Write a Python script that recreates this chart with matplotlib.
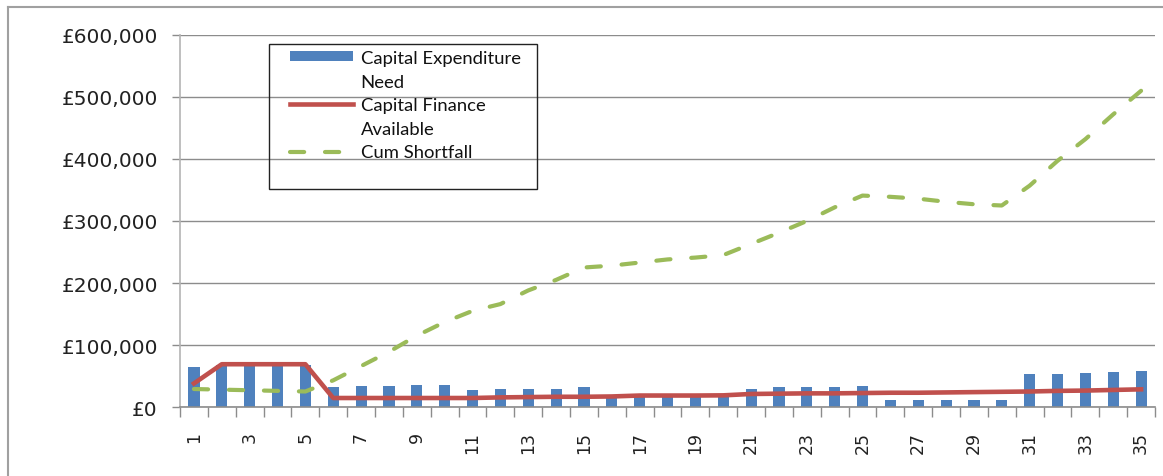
import matplotlib.pyplot as plt
from matplotlib.lines import Line2D
from matplotlib.patches import Patch, Rectangle
from matplotlib.ticker import FuncFormatter, MultipleLocator

# values, in pounds
periods = list(range(1, 36))
capex_need = [
    64000, 67000, 67000, 67000, 67000, 32000, 33400, 33400, 35000, 35000,
    27500, 29000, 29000, 29000, 32000, 16000, 16500, 16500, 16500, 16500,
    29000, 32000, 32000, 33000, 34000, 11000, 11000, 11000, 11000, 11000,
    53700, 54000, 55300, 57000, 58500,
]
finance_available = [
    38000, 69000, 69000, 69000, 69000, 14500, 14500, 14500, 14500, 14500,
    14500, 15500, 16000, 16500, 16500, 17000, 18500, 18500, 18500, 18800,
    21000, 21500, 22000, 22000, 22500, 23000, 23000, 23500, 24000, 24500,
    25000, 26000, 26500, 27500, 28500,
]
cum_shortfall = [
    29000, 28000, 27000, 26000, 25000, 43000, 66000, 89000, 115000, 137000,
    155000, 166000, 188000, 205000, 225000, 228000, 233000, 238000, 241000, 245000,
    263000, 281000, 300000, 322000, 341000, 339000, 336000, 331000, 327000, 325000,
    357000, 397000, 432000, 472000, 510000,
]
legend_labels = ["Capital Expenditure", "Need", "Capital Finance", "Available", "Cum Shortfall"]

blue = "#4F81BD"
red = "#C0504D"
green = "#9BBB59"
grey = "#8C8C8C"

fig = plt.figure(figsize=(11.63, 4.77), dpi=100)
W, H = 1163, 477
ax = fig.add_axes([180 / W, 1 - 408 / H, (1155 - 180) / W, (408 - 36) / H])

ax.bar(periods, capex_need, width=0.4, color=blue, zorder=2)
ax.plot(periods, finance_available, color=red, linewidth=3.3, zorder=3)
shortfall_line, = ax.plot(periods, cum_shortfall, color=green, linewidth=3,
                          dash_capstyle="round", zorder=4)
shortfall_line.set_dashes((3.4, 5.0))

ax.set_xlim(0.5, 35.5)
ax.set_ylim(0, 600000)

ax.yaxis.set_major_locator(MultipleLocator(100000))
ax.yaxis.set_major_formatter(FuncFormatter(lambda v, p: "£{:,.0f}".format(v)))
ax.grid(axis="y", color=grey, linewidth=1, zorder=0)
ax.set_axisbelow(True)

ax.set_xticks(periods[::2])
ax.set_xticklabels([str(p) for p in periods[::2]], rotation=90, va="top")
ax.set_xticks([p + 0.5 for p in range(0, 36)], minor=True)
ax.tick_params(axis="x", which="major", length=0, pad=17, labelsize=12.5, colors="#222222")
ax.tick_params(axis="x", which="minor", length=7, width=1, color=grey)
ax.tick_params(axis="y", length=6, width=1, color=grey, pad=10, labelsize=14.5,
               labelcolor="#222222")

for side in ("top", "right"):
    ax.spines[side].set_visible(False)
ax.spines["left"].set_color("#B4B4B4")
ax.spines["bottom"].set_color(grey)
ax.spines["left"].set_linewidth(1.2)
ax.spines["bottom"].set_linewidth(1.2)

# legend: Excel style, each handle next to the first line of its label
blank = Line2D([], [], color="none")
handles = [
    Patch(facecolor=blue),
    blank,
    Line2D([], [], color=red, linewidth=3.3),
    blank,
    Line2D([], [], color=green, linewidth=3, dashes=(3.4, 5.0), dash_capstyle="round"),
]
leg = ax.legend(handles, legend_labels, loc="upper left",
                bbox_to_anchor=(290 / W, 1 - 51 / H), bbox_transform=fig.transFigure,
                frameon=False, borderpad=0, borderaxespad=0,
                handlelength=3.4, handleheight=0.45, handletextpad=0.43,
                labelspacing=0.41, prop={"family": ["Lato", "DejaVu Sans"], "size": 13.3})
for t in leg.get_texts():
    t.set_color("#111111")

fig.patches.append(Rectangle((269 / W, 1 - 190 / H), (537 - 269) / W, (190 - 45) / H,
                             transform=fig.transFigure, fill=False, edgecolor="#222222",
                             linewidth=1, zorder=5))

# outer chart frame (left and top edges show in the picture)
fig.add_artist(Line2D([8 / W, 8 / W], [0, 1 - 8 / H], transform=fig.transFigure,
                      color="#A0A0A0", linewidth=1.5))
fig.add_artist(Line2D([8 / W, 1], [1 - 8 / H, 1 - 8 / H], transform=fig.transFigure,
                      color="#A0A0A0", linewidth=1.5))

fig.savefig("out.png", dpi=100, facecolor="white")
